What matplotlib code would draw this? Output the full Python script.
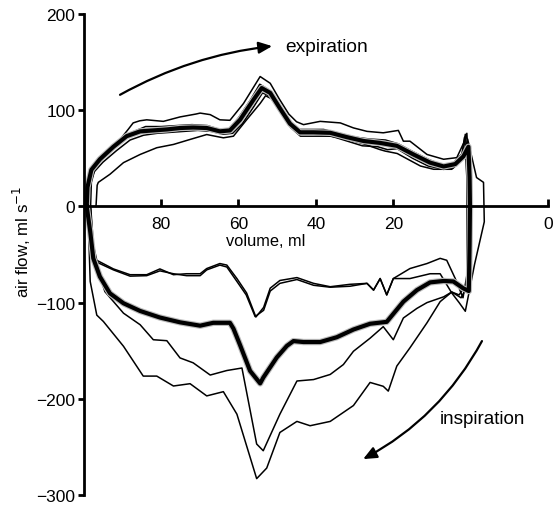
import matplotlib
matplotlib.use("Agg")
import matplotlib.pyplot as plt
from matplotlib.patches import FancyArrowPatch

plt.rcParams['font.family'] = ['Liberation Sans', 'DejaVu Sans']

# ---- data: flow-volume loops (volume in ml, air flow in ml/s) ----
# thick (mean) loop: expiration (left -> right) then inspiration (right -> left)
vol_mean = [99.2, 99.0, 98.0, 95.8, 92.3, 88.9, 85.4, 82.0, 78.5, 75.1, 71.7, 68.2, 64.8, 62.2, 59.6, 56.1,
            54.0, 51.8, 49.3, 46.7, 44.1, 40.6, 36.3, 32.0, 27.7, 23.4, 19.1, 14.8, 10.5, 7.0, 4.0, 1.9,
            0.6, 0.3, 0.2, 0.3, 0.5, 2.0, 4.5, 7.0, 10.5, 13.9, 17.4, 21.7, 26.0, 30.3, 34.6, 38.9, 43.2,
            45.8, 47.5, 50.1, 53.6, 54.4, 57.0, 59.6, 61.3, 62.2, 66.5, 69.9, 75.1, 80.3, 85.4, 89.7,
            93.2, 95.8, 97.5, 98.3, 99.2]
flow_mean = [0, 20, 38, 49, 62, 73, 78, 79, 80, 81.5, 82, 81.5, 78, 79, 90, 111,
             123, 118, 102, 86, 77, 77, 76.5, 72, 68, 66, 63, 54, 45.5, 41.5, 44, 52,
             62, 30, 0, -40, -88, -85, -78, -77.5, -79, -87, -99, -120, -122, -128, -136, -141, -141,
             -140, -145, -157, -178, -184, -171, -144, -127, -121, -121, -124, -120.5, -115.5, -108.7, -100.7,
             -90.4, -73, -54, -26, 0]

# loop B (upper expiration / upper inspiration)
vol_b = [98.6, 98.2, 96.8, 94.0, 90.5, 88.5, 87.2, 85.5, 83.7, 79.4, 75.1, 71.0, 69.9, 67.3, 64.8, 62.2,
         58.7, 54.4, 51.8, 49.5, 47.0, 45.0, 43.2, 38.9, 33.7, 30.3, 26.8, 22.6, 18.7, 17.4, 15.7, 11.3,
         7.0, 3.6, 1.4, 1.0, 0.5, 0.3, 0.5, 2.0, 4.0, 6.2, 7.9, 11.3, 15.7, 20.0, 21.7, 23.4, 25.1, 26.8,
         31.2, 36.3, 40.6, 44.9, 49.3, 51.8, 53.5, 55.7, 58.0, 60.4, 63.0, 64.8, 68.2, 69.9, 73.4, 76.8,
         80.3, 83.7, 88.0, 92.3, 96.6, 97.7, 98.4]
flow_b = [0, 25, 42, 55, 70, 80, 86.8, 89, 90, 88.4, 93, 96, 97, 95.4, 90, 89.5,
          107, 135, 128, 112, 96, 88, 85, 88.4, 86.8, 81.6, 78, 76.5, 79, 67.8, 67.8, 54,
          49, 50.7, 69.6, 76, 40, 0, -60, -95, -75, -56, -54, -59.4, -64.6, -75, -92, -75, -87, -80,
          -83, -84, -82, -76, -80, -88, -108, -114.5, -92, -78, -63, -61, -66, -72, -72, -70,
          -67, -72, -72.5, -66, -58, -40, 0]

# loop C (lower expiration / second upper inspiration)
vol_c = [96.8, 96.5, 96.2, 93.2, 89.7, 85.4, 81.1, 76.8, 72.5, 68.2, 63.9, 61.3, 57.9, 54.4, 53.0, 51.5,
         49.3, 46.7, 44.1, 40.6, 36.3, 32.0, 27.7, 23.4, 22.1, 19.0, 13.0, 9.6, 4.9, 1.9, 0.8, -1.5,
         -3.3, -3.5, -1.0, 1.4, 3.0, 4.9, 7.9, 10.5, 15.7, 20.0, 21.7, 23.4, 25.1, 26.8, 31.2, 36.3,
         40.6, 44.9, 49.3, 51.8, 53.5, 55.5, 57.9, 60.4, 63.0, 64.8, 68.2, 69.9, 73.4, 76.8, 80.3,
         83.7, 88.0, 92.3, 96.6, 97.5, 98.0, 98.2]
flow_c = [0, 22, 25, 33.4, 45.5, 54, 61, 64.4, 69.6, 74.7, 71.3, 73, 90, 107, 115, 112,
          100, 84, 75, 75, 73, 70, 65, 59, 57.5, 55, 42, 38.6, 38.6, 50, 70, 30,
          25, -16, -60, -109, -100, -90, -70, -70, -75, -75, -92, -75, -87, -80, -81, -83.5,
          -80, -74, -77, -85, -105, -115, -90, -75, -61, -59.4, -64.6, -70, -70, -71, -65,
          -71, -71, -65, -56, -40, -10, 0]

# loop D (expiration near mean / middle-low inspiration)
vol_d = [98.2, 98.0, 97.0, 94.5, 91.0, 87.5, 84.0, 80.0, 76.0, 72.0, 68.0, 65.0, 62.5, 60.0, 57.0, 54.5,
         52.5, 50.0, 47.5, 45.0, 42.0, 38.0, 34.0, 30.0, 26.0, 22.0, 18.7, 15.0, 11.0, 7.5, 4.5, 2.2,
         1.4, 0.8, 0.5, 0.5, 2.5, 4.9, 7.0, 11.3, 13.9, 17.4, 20.0, 22.6, 26.0, 30.3, 32.9, 36.3, 40.6,
         44.9, 49.3, 53.6, 55.3, 59.1, 63.0, 67.3, 71.7, 75.1, 78.5, 82.0, 85.4, 89.7, 94.5, 96.8,
         97.8, 98.2]
flow_d = [0, 25, 40, 53, 66, 77, 83, 83, 84, 85, 84, 80, 80, 92, 110, 127,
          122, 108, 92, 80, 80, 80, 76, 72, 70, 69, 65, 57, 49, 43, 45, 55,
          75, 40, 0, -80, -95, -89, -94, -100, -106, -116, -138.6, -125, -137, -150.6, -164.4, -174.7, -180,
          -181.5, -216, -254, -247, -168, -170.6, -175.3, -162.6, -157.5, -139.6, -138.6, -123, -111, -88.6, -60,
          -30, 0]

# loop E (expiration just below mean / lowest inspiration)
vol_e = [98.8, 98.5, 97.5, 95.0, 91.5, 88.0, 84.5, 81.0, 77.5, 74.0, 70.5, 67.0, 64.0, 61.5, 59.0, 56.0,
         53.8, 51.5, 49.0, 46.5, 44.0, 40.0, 36.0, 32.0, 28.0, 24.0, 21.5, 19.0, 15.0, 11.0, 7.0, 4.5,
         2.5, 1.6, 1.0, 1.0, 1.0, 3.0, 4.9, 7.9, 11.3, 15.7, 19.1, 21.3, 22.6, 26.0, 30.3, 36.3, 41.5,
         44.9, 49.3, 52.7, 55.3, 60.4, 63.9, 68.2, 72.5, 76.8, 81.1, 84.6, 89.7, 94.9, 96.6, 98.3,
         98.6, 98.8]
flow_e = [0, 20, 35, 46, 58, 69, 74, 76, 77, 78, 79, 78, 75, 76, 86, 104,
          118, 114, 98, 82, 73, 73, 73, 68, 63, 62, 59, 60, 50, 42, 38.5, 40,
          48, 72, 30, 0, -80, -92, -89, -99, -121, -147, -166, -192, -187, -183, -207, -223.5, -228,
          -223.5, -235, -272, -283, -216, -192.6, -197, -184.3, -186.7, -176.4, -176.4, -145.4, -119.6, -113, -78,
          -40, 0]

thin_loops = [(vol_b, flow_b), (vol_c, flow_c), (vol_d, flow_d), (vol_e, flow_e)]

yticks = [-300, -200, -100, 0, 100, 200]
xtick_pos = [80, 60, 40, 20, -20]
xtick_labels = ["80", "60", "40", "20", "0"]

fig = plt.figure(figsize=(5.59, 5.06), dpi=100)
ax = fig.add_axes([0, 0, 1, 1])
ax.set_xlim(121.6, -22.8)
ax.set_ylim(-310.4, 215.6)

for v, f in thin_loops:
    ax.plot(v, f, color='black', lw=1.1, solid_joinstyle='round', zorder=3)
ax.plot(vol_mean, flow_mean, color='#bbbbbb', lw=4.6, solid_joinstyle='round', zorder=3.5)
ax.plot(vol_mean, flow_mean, color='black', lw=3.0, solid_joinstyle='round', zorder=4)

# axes styling
for s in ['top', 'right']:
    ax.spines[s].set_visible(False)
ax.spines['left'].set_position(('data', 100))
ax.spines['bottom'].set_position(('data', 0))
ax.spines['left'].set_bounds(-300, 200)
ax.spines['bottom'].set_bounds(100, -20)
ax.spines['left'].set_linewidth(2.0)
ax.spines['bottom'].set_linewidth(2.0)
ax.spines['left'].set_zorder(5)
ax.spines['bottom'].set_zorder(5)

ax.set_yticks(yticks)
ax.set_yticklabels([f"{t}".replace('-', '\u2212') for t in yticks])
ax.set_xticks(xtick_pos)
ax.set_xticklabels(xtick_labels)
ax.tick_params(axis='y', direction='out', length=4, width=2, pad=2, labelsize=12.5)
ax.tick_params(axis='x', direction='in', length=5, width=2, pad=7, labelsize=12.5)

ax.text(53.0, -35, "volume, ml", fontsize=11.8, ha='center', va='center')
ax.text(116.0, -36, "air flow, ml s$^{\u22121}$", fontsize=12.2, ha='center', va='center', rotation=90)

# arrows and labels
arr1 = FancyArrowPatch((90.6, 116), (51.3, 166.6), connectionstyle="arc3,rad=-0.1",
                       arrowstyle="-|>,head_length=8,head_width=3.5", lw=1.6, color='black',
                       shrinkA=0, shrinkB=0)
ax.add_patch(arr1)
ax.text(48.0, 166.6, "expiration", fontsize=13.8, ha='left', va='center')

arr2 = FancyArrowPatch((-2.9, -140), (27.8, -262.7), connectionstyle="arc3,rad=-0.15",
                       arrowstyle="-|>,head_length=8,head_width=3.5", lw=1.6, color='black',
                       shrinkA=0, shrinkB=0)
ax.add_patch(arr2)
ax.text(7.9, -220.4, "inspiration", fontsize=13.6, ha='left', va='center')

fig.savefig("out.png", dpi=100)
